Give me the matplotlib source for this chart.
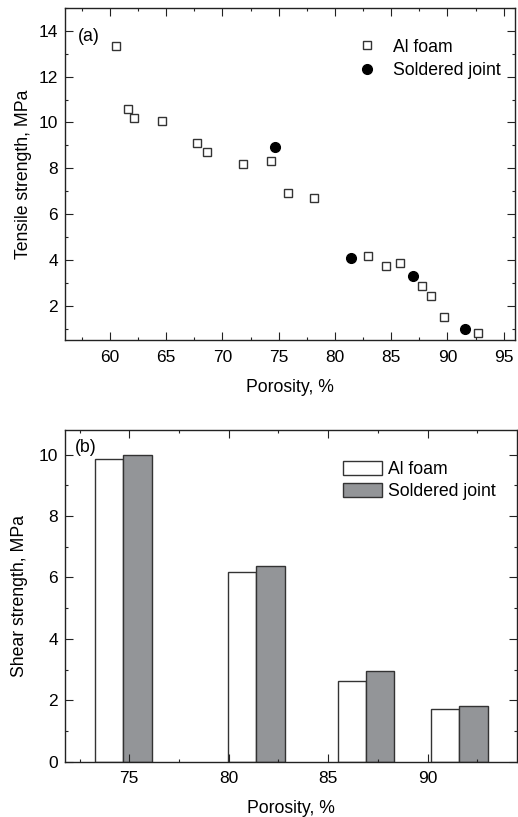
import matplotlib
matplotlib.use("Agg")
import matplotlib.pyplot as plt
from matplotlib.ticker import MultipleLocator

plt.rcParams['font.family'] = ['Liberation Sans', 'DejaVu Sans']

# Panel (a): tensile strength vs porosity
foam_porosity = [60.5, 61.6, 62.1, 64.6, 67.7, 68.6, 71.8, 74.3, 75.8, 78.1,
                 82.9, 84.5, 85.8, 87.7, 88.5, 89.7, 92.7]
foam_tensile = [13.36, 10.58, 10.21, 10.07, 9.1, 8.72, 8.18, 8.31, 6.9, 6.69,
                4.17, 3.75, 3.88, 2.88, 2.4, 1.51, 0.81]
joint_porosity = [74.7, 81.4, 86.9, 91.6]
joint_tensile = [8.93, 4.1, 3.29, 1.0]

# Panel (b): shear strength
shear_porosity = [74.7, 81.4, 86.9, 91.6]
foam_shear = [9.87, 6.18, 2.63, 1.70]
joint_shear = [10.0, 6.36, 2.96, 1.82]

fig = plt.figure(figsize=(5.18, 8.17), dpi=100)
ax1 = fig.add_axes([65/518, 1-340/817, 450/518, 332/817])
ax2 = fig.add_axes([65/518, 1-761.7/817, 452/518, 331.7/817])

edge = '#333333'
fs_tick = 12.5
fs_lab = 12.7

ax1.plot(foam_porosity, foam_tensile, linestyle='none', marker='s', ms=5.2,
         mfc='white', mec=edge, mew=1.0, label='Al foam')
ax1.plot(joint_porosity, joint_tensile, linestyle='none', marker='o', ms=7,
         mfc='black', mec='black', label='Soldered joint')
ax1.set_xlim(56, 96)
ax1.set_ylim(0.5, 15.0)
ax1.xaxis.set_major_locator(MultipleLocator(5))
ax1.xaxis.set_minor_locator(MultipleLocator(2.5))
ax1.set_yticks([2, 4, 6, 8, 10, 12, 14])
ax1.yaxis.set_minor_locator(MultipleLocator(1))
ax1.set_xlabel('Porosity, %', fontsize=fs_lab, labelpad=10)
ax1.set_ylabel('Tensile strength, MPa', fontsize=fs_lab, labelpad=5)
ax1.text(0.028, 0.915, '(a)', transform=ax1.transAxes, fontsize=fs_lab,
         va='center', ha='left')
ax1.legend(loc='upper left', bbox_to_anchor=(0.6476, 0.908), frameon=False,
           fontsize=fs_lab, handletextpad=0.9, labelspacing=0.35,
           borderaxespad=0.0, borderpad=0.0, handlelength=1.2)

w = 1.42
ax2.bar([p - w/2 for p in shear_porosity], foam_shear, width=w,
        color='white', edgecolor=edge, linewidth=1.0, label='Al foam')
ax2.bar([p + w/2 for p in shear_porosity], joint_shear, width=w,
        color='#939598', edgecolor=edge, linewidth=1.0, label='Soldered joint')
ax2.set_xlim(71.77, 94.5)
ax2.set_ylim(0, 10.8)
ax2.set_xticks([75, 80, 85, 90])
ax2.xaxis.set_minor_locator(MultipleLocator(2.5))
ax2.yaxis.set_major_locator(MultipleLocator(2))
ax2.yaxis.set_minor_locator(MultipleLocator(1))
ax2.set_xlabel('Porosity, %', fontsize=fs_lab, labelpad=10)
ax2.set_ylabel('Shear strength, MPa', fontsize=fs_lab, labelpad=8)
ax2.text(0.022, 0.948, '(b)', transform=ax2.transAxes, fontsize=fs_lab,
         va='center', ha='left')
ax2.legend(loc='upper left', bbox_to_anchor=(0.615, 0.908), frameon=False,
           fontsize=fs_lab, handletextpad=0.34, labelspacing=0.28,
           borderaxespad=0.0, borderpad=0.0, handlelength=2.21,
           handleheight=0.85)

for ax in (ax1, ax2):
    ax.tick_params(which='both', direction='in', top=True, right=True,
                   labelsize=fs_tick, colors='#222222', labelcolor='black')
    ax.tick_params(which='major', length=5.5, width=0.8, pad=5)
    ax.tick_params(which='minor', length=2.2, width=0.8)
    ax.tick_params(axis='x', which='major', pad=7)
    for s in ax.spines.values():
        s.set_linewidth(1.0)
        s.set_color('#222222')

fig.savefig('out.png', dpi=100)
